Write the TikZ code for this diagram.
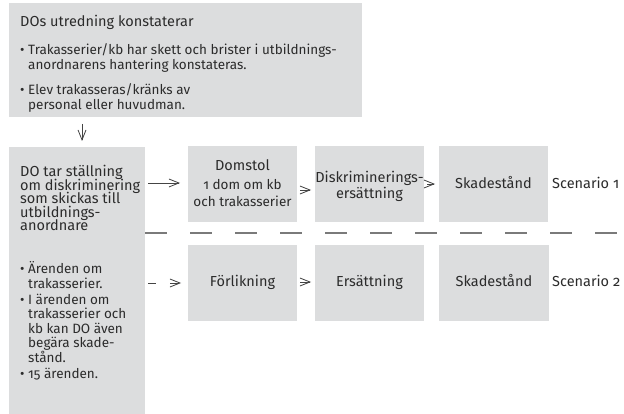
\documentclass[tikz,border=0pt]{standalone}
\usepackage{fontspec}
\setmainfont{Fira Sans}[Numbers=OldStyle]
\usetikzlibrary{arrows.meta}
\definecolor{boxgray}{HTML}{DCDDDE}
\definecolor{ink}{HTML}{2B2B2B}
\definecolor{lineink}{HTML}{444444}
\definecolor{dashgray}{HTML}{7A7A7A}
\newcommand\bigf{\fontsize{14.5}{14.5}\selectfont}
\newcommand\smallf{\fontsize{13.5}{13.5}\selectfont}
\begin{document}
\begin{tikzpicture}[x=1pt,y=1pt,
 box/.style={fill=boxgray, draw=none, inner sep=0pt, outer sep=0pt, anchor=north west},
 lt/.style={anchor=base west, inner sep=0pt, text=ink},
 ct/.style={anchor=base, inner sep=0pt, text=ink},
 arr/.style={draw=lineink, line width=0.8pt, -{Straight Barb[length=10pt,width=8pt]}},
 sep/.style={draw=dashgray, line width=1.3pt, dash pattern=on 22pt off 23pt}]
\useasboundingbox (0,0) rectangle (624,-414);
% boxes
\node[box, minimum width=353pt, minimum height=114pt] (top) at (9,-3) {};
\node[box, minimum width=136pt, minimum height=267pt] (do) at (9,-147) {};
\node[box, minimum width=109pt, minimum height=76pt] (dom) at (188,-146) {};
\node[box, minimum width=109pt, minimum height=76pt] (disk) at (315,-146) {};
\node[box, minimum width=109pt, minimum height=76pt] (skad1) at (439,-146) {};
\node[box, minimum width=109pt, minimum height=76pt] (forl) at (188,-245) {};
\node[box, minimum width=109pt, minimum height=76pt] (ers) at (315,-245) {};
\node[box, minimum width=110pt, minimum height=76pt] (skad2) at (439,-245) {};
% top box text
\node[lt] (t0) at (20,-27) {\bigf DOs utredning konstaterar};
\node[lt] (t1b) at (20,-55) {\smallf •};
\node[lt] (t1) at (28,-55) {\smallf Trakasserier/kb har skett och brister i utbildnings-};
\node[lt] (t2) at (28,-70) {\smallf anordnarens hantering konstateras.};
\node[lt] (t3b) at (20,-95) {\smallf •};
\node[lt] (t3) at (28,-95) {\smallf Elev trakasseras/kränks av};
\node[lt] (t4) at (28,-110) {\smallf personal eller huvudman.};
% DO box text
\node[lt] (d1) at (20,-177) {\bigf DO tar ställning};
\node[lt] (d2) at (20,-190.5) {\bigf om diskriminering};
\node[lt] (d3) at (20,-204) {\bigf som skickas till};
\node[lt] (d4) at (20,-217.5) {\bigf utbildnings-};
\node[lt] (d5) at (20,-231) {\bigf anordnare};
\node[lt] (e1b) at (20,-273) {\smallf •};
\node[lt] (e1) at (28,-273) {\smallf Ärenden om};
\node[lt] (e2) at (28,-288) {\smallf trakasserier.};
\node[lt] (e3b) at (20,-304) {\smallf •};
\node[lt] (e3) at (28,-304) {\smallf I ärenden om};
\node[lt] (e4) at (28,-318.5) {\smallf trakasserier och};
\node[lt] (e5) at (28,-333) {\smallf kb kan DO även};
\node[lt] (e6) at (28,-347.5) {\smallf begära skade-};
\node[lt] (e7) at (28,-362) {\smallf stånd.};
\node[lt] (e8b) at (20,-378) {\smallf •};
\node[lt] (e8) at (28,-378) {\smallf 15 ärenden.};
% small boxes text
\node[ct] (dom1) at (242.5,-171) {\bigf Domstol};
\node[ct] (dom2) at (242.5,-190) {\smallf 1 dom om kb};
\node[ct] (dom3) at (242.5,-207) {\smallf och trakasserier};
\node[ct] (disk1) at (369.5,-183) {\bigf Diskriminerings-};
\node[ct] (disk2) at (369.5,-199) {\bigf ersättning};
\node[ct] (sk1) at (493.5,-189) {\bigf Skadestånd};
\node[lt] (sc1) at (552,-189) {\bigf Scenario 1};
\node[ct] (fo) at (242.5,-287) {\bigf Förlikning};
\node[ct] (er) at (369.5,-287) {\bigf Ersättning};
\node[ct] (sk2) at (494,-287) {\bigf Skadestånd};
\node[lt] (sc2) at (552,-287) {\bigf Scenario 2};
% connectors
\coordinate (vx) at (82,0);
\coordinate (r1) at (0,-183);
\coordinate (r1b) at (0,-190);
\coordinate (r1c) at (0,-184);
\coordinate (r2) at (0,-283);
\coordinate (r2b) at (0,-282);
\coordinate (sepy) at (0,-233);
\coordinate (send) at (624,-233);
\draw[arr, shorten <=7pt, shorten >=6pt] (top.south -| vx) -- (do.north -| vx);
\draw[arr, shorten <=3pt, shorten >=8pt] (do.east |- r1) -- (dom.west |- r1);
\draw[arr, dash pattern=on 8pt off 14pt, shorten <=3pt, shorten >=7pt] (do.east |- r2) -- (forl.west |- r2);
\draw[arr, shorten <=3pt, shorten >=4pt] (dom.east |- r1b) -- (disk.west |- r1b);
\draw[arr, shorten <=3pt, shorten >=4pt] (disk.east |- r1c) -- (skad1.west |- r1c);
\draw[arr, shorten <=3pt, shorten >=4pt] (forl.east |- r2b) -- (ers.west |- r2b);
\draw[sep] (do.east |- sepy) -- (send);
\end{tikzpicture}
\end{document}
